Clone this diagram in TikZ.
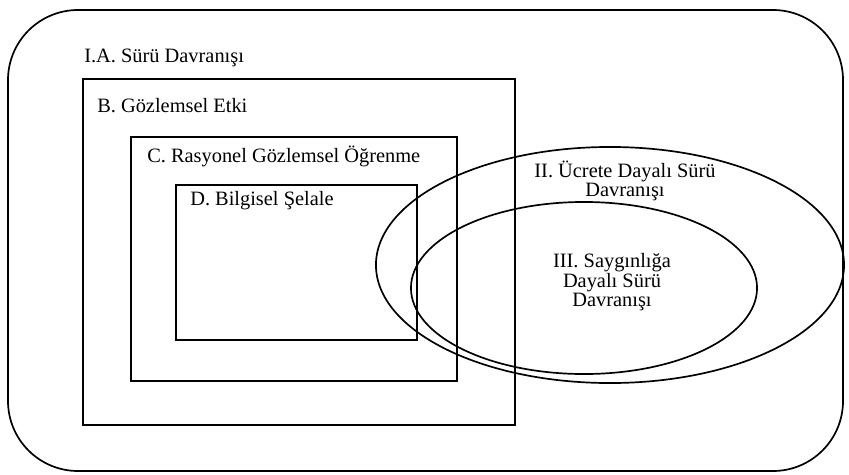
\documentclass[tikz,border=0pt]{standalone}
\usepackage{fontspec}
\setmainfont{Liberation Serif}
\tikzset{
	kutu/.style={line width=1.2pt},
	etiket/.style={inner sep=0pt, font=\fontsize{14.5}{12.5}\selectfont},
}
\begin{document}
\begin{tikzpicture}[x=0.025cm, y=-0.025cm]
		\useasboundingbox (0,0) rectangle (849,474);

		% dis cerceve ve ic ice kutular
		\draw[kutu, rounded corners=1.75cm] (8,10) rectangle (843,471);
		\draw[kutu] (83,79) rectangle (515,425);
		\draw[kutu] (131,137) rectangle (457,381);
		\draw[kutu] (176,185) rectangle (417,340);

		% elipsler
		\draw[kutu] (610,265) ellipse [x radius=5.85cm, y radius=2.95cm];
		\draw[kutu] (584,288) ellipse [x radius=4.325cm, y radius=2.15cm];

		\node[etiket, anchor=west] (suru) at (84,58) {I.A. Sürü Davranışı};
		\node[etiket, anchor=west] (gozlem) at (97,106) {B. Gözlemsel Etki};
		\node[etiket, anchor=west] (rasyonel) at (147,156) {C. Rasyonel Gözlemsel Öğrenme};
		\node[etiket, anchor=west] (bilgi) at (190,201) {D. Bilgisel Şelale};
		\node[etiket, align=center] (ucret) at (625,181) {II. Ücrete Dayalı Sürü\\Davranışı};
		\node[etiket, align=center] (saygin) at (612,282) {III. Saygınlığa\\Dayalı Sürü\\Davranışı};
	\end{tikzpicture}
\end{document}
